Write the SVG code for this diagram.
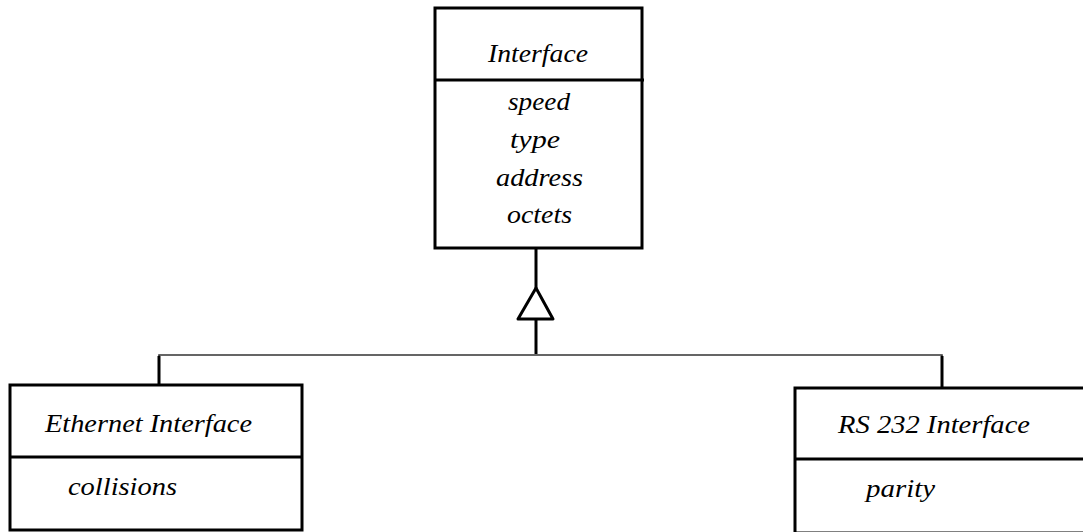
<svg xmlns="http://www.w3.org/2000/svg" width="1083" height="532" viewBox="0 0 1083 532">
<style>
.box{fill:#fff;stroke:#000;stroke-width:3}
.div{stroke:#000;stroke-width:3}
.t{font-family:"Liberation Serif","Times New Roman",serif;font-style:italic;font-size:25px;fill:#000}
.conn{fill:none;stroke:#000;stroke-width:3}
.thin{fill:none;stroke:#333;stroke-width:1.6}
</style>
<rect width="1083" height="532" fill="#fff"/>
<g id="connectors">
<line class="conn" x1="536" y1="248" x2="536" y2="288"/>
<polygon class="conn" points="536,288 553,319 518,319" stroke-linejoin="round"/>
<line class="conn" x1="536" y1="319" x2="536" y2="354"/>
<polyline class="thin" points="159,384 159,355 942,355 942,387"/>
<line class="conn" x1="159" y1="356" x2="159" y2="385"/>
<line class="conn" x1="942" y1="356" x2="942" y2="388"/>
</g>
<g id="interface">
<rect class="box" x="435" y="8" width="207" height="240"/>
<line class="div" x1="434" y1="80" x2="644" y2="80"/>
<text class="t" x="488" y="62" textLength="100" lengthAdjust="spacingAndGlyphs">Interface</text>
<text class="t" x="508" y="110" textLength="62" lengthAdjust="spacingAndGlyphs">speed</text>
<text class="t" x="510" y="148" textLength="50" lengthAdjust="spacingAndGlyphs">type</text>
<text class="t" x="496" y="186" textLength="87" lengthAdjust="spacingAndGlyphs">address</text>
<text class="t" x="507" y="223" textLength="65" lengthAdjust="spacingAndGlyphs">octets</text>
</g>
<g id="ethernet">
<rect class="box" x="10" y="385" width="292" height="145"/>
<line class="div" x1="9" y1="457" x2="303" y2="457"/>
<text class="t" x="45" y="432" textLength="207" lengthAdjust="spacingAndGlyphs">Ethernet Interface</text>
<text class="t" x="68" y="495" textLength="109" lengthAdjust="spacingAndGlyphs">collisions</text>
</g>
<g id="rs232">
<rect class="box" x="795" y="388" width="300" height="145"/>
<line class="div" x1="794" y1="459" x2="1083" y2="459"/>
<text class="t" x="838" y="433" textLength="192" lengthAdjust="spacingAndGlyphs">RS 232 Interface</text>
<text class="t" x="866" y="497" textLength="69" lengthAdjust="spacingAndGlyphs">parity</text>
</g>
</svg>
